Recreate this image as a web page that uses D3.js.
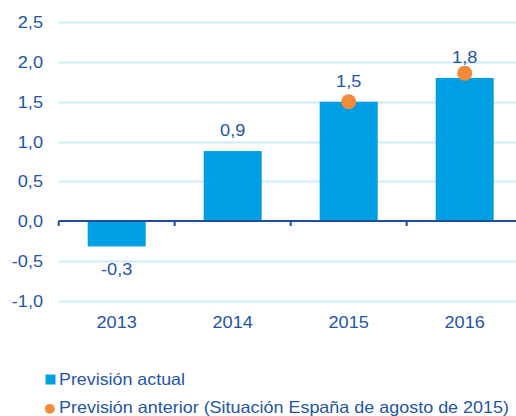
<!DOCTYPE html>
<html>
<head>
<meta charset="utf-8">
<script src="https://cdn.jsdelivr.net/npm/d3@7"></script>
<style>
  html, body { margin: 0; padding: 0; background: #fff; }
  svg { display: block; }
  text { font-family: "Liberation Sans", Arial, sans-serif; }
</style>
</head>
<body>
<script>
const categories = ["2013", "2014", "2015", "2016"];
const actual = [-0.32, 0.88, 1.5, 1.8];
const actualLabels = ["-0,3", "0,9", "1,5", "1,8"];
const previous = [null, null, 1.5, 1.86];
const yTicks = [-1.0, -0.5, 0.0, 0.5, 1.0, 1.5, 2.0, 2.5];
const legendLabels = ["Previsión actual", "Previsión anterior (Situación España de agosto de 2015)"];

const W = 516, H = 416;
const barColor = "#009fe3", dotColor = "#f7893b", textColor = "#1f56a6", axisColor = "#1d4f9e", gridColor = "#cfeaf8";
const FS = 16.5, SX = 1.1;

const svg = d3.select("body").append("svg").attr("width", W).attr("height", H);

const x = d3.scaleBand().domain(categories).range([58.7, 522.7]).paddingInner(0.5).paddingOuter(0.25);
const y = d3.scaleLinear().domain([-1, 2.5]).range([300.5, 22.3]);

function txt(g, tx, ty, s, anchor, fs) {
  return g.append("text")
    .attr("transform", `translate(${tx},${ty}) scale(${SX},1)`)
    .attr("text-anchor", anchor || "middle")
    .attr("font-size", fs || FS)
    .attr("fill", textColor)
    .text(s);
}

// gridlines
svg.append("g").selectAll("line").data(yTicks.filter(d => d !== 0)).join("line")
  .attr("x1", 58.7).attr("x2", W)
  .attr("y1", d => Math.round(y(d)) + 0.5).attr("y2", d => Math.round(y(d)) + 0.5)
  .attr("stroke", gridColor).attr("stroke-width", 2);

// y tick labels
const fmt = d3.formatLocale({decimal: ",", thousands: ".", grouping: [3], currency: ["", "€"]}).format(".1f");
const yl = svg.append("g");
yTicks.forEach(t => txt(yl, 43, y(t) + 6, fmt(t).replace("−", "-"), "end"));

// bars
svg.append("g").selectAll("rect").data(actual).join("rect")
  .attr("x", (d, i) => x(categories[i]))
  .attr("width", x.bandwidth())
  .attr("y", d => y(Math.max(0, d)))
  .attr("height", d => Math.abs(y(d) - y(0)))
  .attr("fill", barColor);

// zero axis
const ax = svg.append("g");
ax.append("line").attr("x1", 58.7).attr("x2", W).attr("y1", y(0)).attr("y2", y(0))
  .attr("stroke", axisColor).attr("stroke-width", 2.2);
const step = x.step();
ax.selectAll("line.tick").data(categories).join("line").attr("class", "tick")
  .attr("x1", c => x(c) - (step - x.bandwidth()) / 2)
  .attr("x2", c => x(c) - (step - x.bandwidth()) / 2)
  .attr("y1", y(0)).attr("y2", y(0) + 5)
  .attr("stroke", axisColor).attr("stroke-width", 2);

// data labels
const dl = svg.append("g");
actual.forEach((v, i) => {
  const cx = x(categories[i]) + x.bandwidth() / 2;
  const yy = v >= 0 ? y(v) - 15 : y(v) + 29;
  txt(dl, cx, yy, actualLabels[i]);
});

// dots
svg.append("g").selectAll("circle").data(previous.map((v, i) => ({v, c: categories[i]})).filter(d => d.v !== null)).join("circle")
  .attr("cx", d => x(d.c) + x.bandwidth() / 2)
  .attr("cy", d => y(d.v))
  .attr("r", 7.5)
  .attr("fill", dotColor);

// x labels
const xl = svg.append("g");
categories.forEach(c => txt(xl, x(c) + x.bandwidth() / 2, 328, c));

// legend
const lg = svg.append("g");
lg.append("rect").attr("x", 45.5).attr("y", 374.5).attr("width", 10).attr("height", 10).attr("fill", barColor);
lg.append("text").attr("x", 59).attr("y", 385).attr("font-size", FS).attr("fill", textColor)
  .attr("textLength", 126).attr("lengthAdjust", "spacingAndGlyphs").text(legendLabels[0]);
lg.append("circle").attr("cx", 49.8).attr("cy", 408.8).attr("r", 4.9).attr("fill", dotColor);
lg.append("text").attr("x", 59).attr("y", 413).attr("font-size", FS).attr("fill", textColor)
  .attr("textLength", 450).attr("lengthAdjust", "spacingAndGlyphs").text(legendLabels[1]);
</script>
</body>
</html>
